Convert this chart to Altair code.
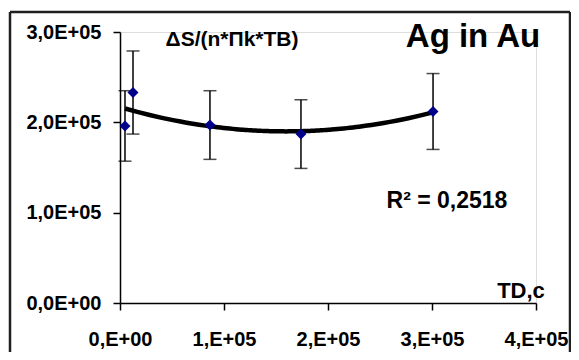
import altair as alt
import pandas as pd

# data
td_c = [4800, 12500, 86500, 174000, 301000]
ds_ratio = [196000, 233000, 197000, 187000, 212000]
err = [39000, 46000, 38000, 38000, 42000]

x_ticks = [0, 100000, 200000, 300000, 400000]
y_ticks = [0, 100000, 200000, 300000]

series_label = "ΔS/(n*Πk*TB)"
panel_label = "Ag in Au"
r2_label = "R² = 0,2518"
x_label = "TD,c"

df = pd.DataFrame({
    "x": td_c,
    "y": ds_ratio,
    "lo": [v - e for v, e in zip(ds_ratio, err)],
    "hi": [v + e for v, e in zip(ds_ratio, err)],
})

FONT = "Liberation Sans"

xs = alt.Scale(domain=[0, 400000], nice=False, zero=False)
ys = alt.Scale(domain=[0, 300000], nice=False, zero=False)

x_axis = alt.Axis(
    values=x_ticks, title=None, grid=False,
    labelExpr="datum.value == 0 ? '0,E+00' : format(datum.value/100000, 'd') + ',E+05'",
    labelFont=FONT, labelFontWeight="bold", labelFontSize=20, labelColor="black",
    labelPadding=19, tickSize=7, tickColor="black", tickWidth=1.5,
    domainColor="black", domainWidth=1.5, labelFlush=False, labelOverlap=False,
)
y_axis = alt.Axis(
    values=y_ticks, title=None, grid=False,
    labelExpr="datum.value == 0 ? '0,0E+00' : replace(format(datum.value/100000, '.1f'), '.', ',') + 'E+05'",
    labelFont=FONT, labelFontWeight="bold", labelFontSize=20, labelColor="black",
    labelPadding=12, tickSize=7, tickColor="black", tickWidth=1.5,
    domainColor="black", domainWidth=1.5, labelFlush=False, labelOverlap=False,
)

base = alt.Chart(df)

trend = base.transform_regression("x", "y", method="poly", order=2).mark_line(
    color="black", strokeWidth=4.5
).encode(
    x=alt.X("x:Q", scale=xs, axis=x_axis),
    y=alt.Y("y:Q", scale=ys, axis=y_axis),
)

bars = base.mark_rule(color="black", strokeWidth=1.5).encode(
    x=alt.X("x:Q", scale=xs, title=None),
    y=alt.Y("lo:Q", scale=ys, title=None),
    y2="hi:Q",
)
caps_lo = base.mark_tick(color="black", orient="horizontal", size=13, thickness=1.5).encode(
    x=alt.X("x:Q", scale=xs, title=None),
    y=alt.Y("lo:Q", scale=ys, title=None),
)
caps_hi = base.mark_tick(color="black", orient="horizontal", size=13, thickness=1.5).encode(
    x=alt.X("x:Q", scale=xs, title=None),
    y=alt.Y("hi:Q", scale=ys, title=None),
)

points = base.mark_point(shape="diamond", filled=True, color="#00008B", size=120, opacity=1).encode(
    x=alt.X("x:Q", scale=xs, title=None),
    y=alt.Y("y:Q", scale=ys, title=None),
)

one = alt.Chart(alt.Data(values=[{}]))

FRAME = "#202020"
frame_left = one.mark_rule(color=FRAME, strokeWidth=2.5).encode(
    x=alt.value(-110), y=alt.value(-20), y2=alt.value(330))
frame_right = one.mark_rule(color=FRAME, strokeWidth=2.5).encode(
    x=alt.value(450), y=alt.value(-20), y2=alt.value(330))
frame_top = one.mark_rule(color=FRAME, strokeWidth=2.5).encode(
    x=alt.value(-110), x2=alt.value(450), y=alt.value(-20))

def label(text, x, y, size):
    return one.mark_text(
        text=text, font=FONT, fontWeight="bold", fontSize=size, color="black",
        align="center", baseline="alphabetic",
    ).encode(x=alt.value(x), y=alt.value(y))

t1 = label(series_label, 112, 14, 21)
t2 = label(panel_label, 353, 15, 33)
t3 = label(r2_label, 327, 176, 23)
t4 = label(x_label, 401, 266, 22)

chart = alt.layer(
    trend, bars, caps_lo, caps_hi, points,
    frame_left, frame_right, frame_top, t1, t2, t3, t4,
).properties(
    width=416, height=271,
    autosize=alt.AutoSizeParams(type="none"),
    padding={"left": 112, "top": 24, "right": 35, "bottom": 49},
).configure_view(stroke=None).configure(background="white")

chart.save("out.html", embed_options={"renderer": "svg", "actions": False})
